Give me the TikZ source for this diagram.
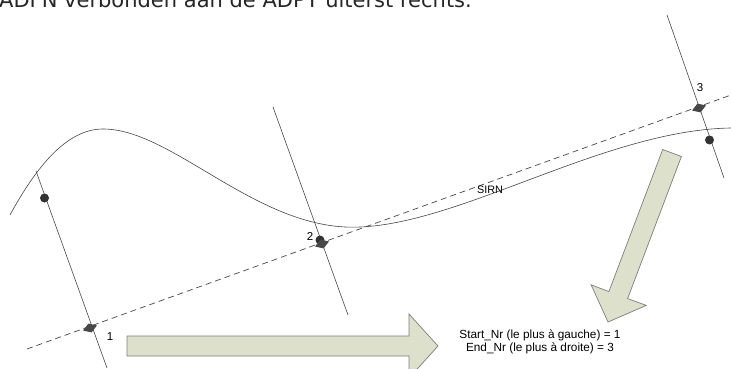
\documentclass[tikz,border=0pt]{standalone}
\usepackage{fontspec}
\setmainfont{Liberation Sans}
\newfontfamily\verd{DejaVu Sans}
\usetikzlibrary{shapes.geometric}
\definecolor{arrowfill}{RGB}{221,225,204}
\definecolor{arrowline}{RGB}{125,125,125}
\definecolor{ink}{RGB}{70,70,70}
\definecolor{dotc}{RGB}{50,50,50}
\begin{document}
\begin{tikzpicture}[x=1pt,y=-1pt,
  thinline/.style={draw=ink, line width=0.6pt},
  dashline/.style={draw=ink, line width=0.7pt, dash pattern=on 6pt off 4pt},
  bigarrow/.style={fill=arrowfill, draw=arrowline, line width=0.7pt, line join=miter},
  dotnode/.style={circle, fill=dotc, inner sep=0pt, minimum size=9pt},
  diamnode/.style={diamond, fill=dotc!90, inner sep=0pt, minimum width=15pt, minimum height=9.5pt, rotate=20},
  numlabel/.style={font=\fontsize{11.5}{12}\selectfont, inner sep=0pt},
  infotext/.style={font=\fontsize{11.8}{12.5}\selectfont, align=center, inner sep=0pt}]
\useasboundingbox (0,0) rectangle (731,369);

% top text (cut off by the frame, as in the reference)
\node[anchor=base west, inner sep=0pt, font=\verd\fontsize{21}{24}\selectfont, text=black!85] (title) at (-1,7.5) {ADFN verbonden aan de ADPT uiterst rechts.};

% curve SIRN
\coordinate (c0) at (10,215);
\coordinate (c1) at (103,129);
\coordinate (c2) at (345,227);
\coordinate (c3) at (731,128);
\draw[thinline] (c0) .. controls (40,160) and (70,129) .. (c1)
  .. controls (170,129) and (250,222) .. (c2)
  .. controls (450,232) and (600,130) .. (c3);

% dashed line
\coordinate (dA) at (27,349);
\coordinate (dB) at (731,95);
\draw[dashline] (dA) -- (dB);

% perpendicular lines
\coordinate (l1a) at (36,171);
\coordinate (l1b) at (107,368);
\coordinate (l2a) at (273,107);
\coordinate (l2b) at (348,315);
\coordinate (l3a) at (667,15);
\coordinate (l3b) at (724,178);
\draw[thinline] (l1a) -- (l1b);
\draw[thinline] (l2a) -- (l2b);
\draw[thinline] (l3a) -- (l3b);

% dots and diamonds
\node[dotnode] (p1) at (44.5,198) {};
\node[dotnode] (p2) at (320,240) {};
\node[dotnode] (p3) at (709.5,140) {};
\node[diamnode] (q1) at (90,328) {};
\node[diamnode] (q2) at (322,244) {};
\node[diamnode] (q3) at (699,108) {};

% labels
\node[numlabel] (n1) at (110,337) {1};
\node[numlabel] (n2) at (310,236) {2};
\node[numlabel] (n3) at (700,88) {3};
\node[font=\fontsize{10.8}{12}\selectfont, inner sep=0pt] (sirn) at (490,190) {SIRN};

% big arrows
\draw[bigarrow] (127,336) -- (409,336) -- (409,314) -- (438,346) -- (409,378) -- (409,356) -- (127,356) -- cycle;
\draw[bigarrow] (662.7,149.5) -- (681.4,156.5) -- (627.6,298.6) -- (646.3,305.4) -- (608,322) -- (591.1,284.8) -- (608.9,291.6) -- cycle;

% info text
\node[infotext] (info) at (540,342) {Start\_Nr (le plus à gauche) = 1\\End\_Nr (le plus à droite) = 3};
\end{tikzpicture}
\end{document}
